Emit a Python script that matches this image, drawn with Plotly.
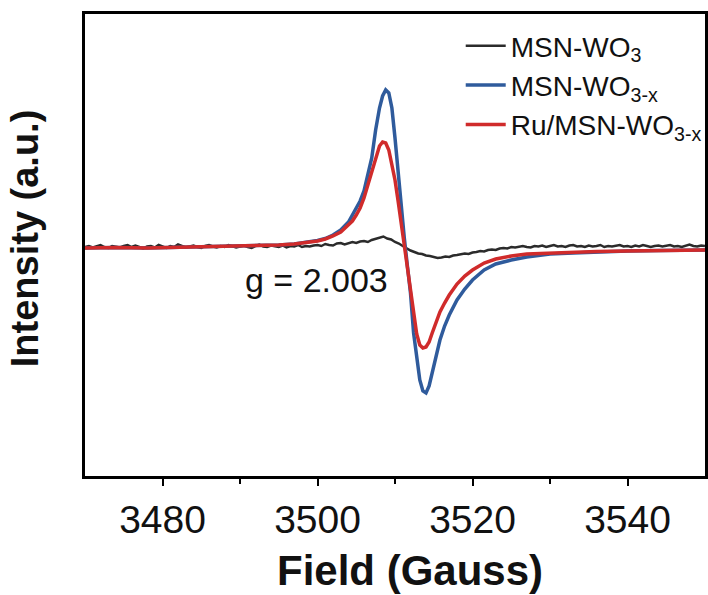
import plotly.graph_objects as go

# ---- data (intensity in arbitrary units) ----
field_fit = [3470, 3474, 3478, 3482, 3486, 3490, 3493, 3495, 3497, 3499,
             3500, 3501, 3502, 3503, 3504, 3504.5, 3505, 3505.5, 3506, 3506.5,
             3507, 3507.5, 3508, 3508.4, 3508.8, 3509.2, 3509.6, 3510, 3510.4, 3510.8,
             3511.2, 3511.6, 3512, 3512.4, 3512.8, 3513.2, 3513.6, 3514, 3514.4, 3514.8,
             3515.3, 3515.8, 3516.4, 3517, 3518, 3519, 3520, 3521.5, 3523, 3525,
             3527, 3530, 3533, 3536, 3540, 3544, 3547, 3550]

msn_wo3x = [0, 0.5, 0, 0.5, 1, 1.5, 2, 3, 4, 6,
            7.5, 9.5, 13, 18, 26, 33, 40, 47, 57, 72,
            90, 118, 140, 152, 158, 155, 140, 110, 75, 40,
            10, -18, -45, -85, -112, -132, -143, -145, -138, -125,
            -107, -92, -78, -67, -52, -41, -32, -22, -16, -12,
            -9, -6, -5, -4, -3, -2.5, -2, -2]

ru_msn_wo3x = [0, 0.5, 0, 0.5, 1, 1.5, 2, 3, 4, 5.5,
               7, 9, 12, 16, 23, 27, 33, 40, 50, 63,
               78, 92, 102, 106, 105, 98, 84, 68, 47, 24,
               5, -18, -42, -68, -86, -97, -100, -99, -94, -85,
               -75, -64, -55, -47, -36, -28, -22, -15, -11, -8,
               -6, -5, -4, -3.5, -3, -2.5, -2, -2]

field_noisy = [3470 + 0.5 * i for i in range(161)]
msn_wo3 = [1, 2, 0.5, 1.5, 3, 1, 0, 2, 1.5, 0.5,
           2, 3, 1, 2.5, 1, -0.5, 1.5, 2, 0.5, 3,
           1.5, 0, 2, 1, 3.5, 2, 0.5, 1.5, 2.5, 1,
           0, 2, 3, 1.5, 0.5, 2, 1, 3, 2, 0.5,
           1.5, 2.5, 1, 0, 2, 3.5, 1.5, 1, 2.5, 2,
           1, 2.5, 0.5, 2, 1.5, 3, 1, 2, 1.5, 2.5,
           3, 2, 4, 3, 2.5, 4.5, 5, 3.5, 5, 6,
           5, 6.5, 7, 6, 8, 9, 10, 11.5, 9.5, 8.5,
           6, 4.5, 2, -0.5, -2.5, -4, -5.5, -6, -7.5, -8,
           -9, -10, -9.5, -8.5, -9, -7.5, -7, -6, -5.5, -6,
           -4.5, -4, -3, -3.5, -2, -1.5, -2, -0.5, 0, -0.5,
           1, 0.5, 1.5, 2, 1, 0.5, 2, 1.5, 2.5, 1,
           2, 3, 1.5, 2, 1, 2.5, 3, 1.5, 2, 1,
           2.5, 1.5, 2, 3, 1, 2, 1.5, 2.5, 3, 1.5,
           2, 1, 2.5, 1.5, 3, 2, 1, 2, 2.5, 1.5,
           2, 3, 1.5, 2, 1, 2.5, 3.5, 2, 1.5, 2.5,
           2]

series_names = ["MSN-WO<sub>3</sub>", "MSN-WO<sub>3-x</sub>", "Ru/MSN-WO<sub>3-x</sub>"]
series_colors = ["#2b2b2b", "#2f5b9c", "#d02b2b"]
x_ticks = [3480, 3500, 3520, 3540]
x_minor = [3490, 3510, 3530]
g_label = "g = 2.003"
x_title = "<b>Field (Gauss)</b>"
y_title = "<b>Intensity (a.u.)</b>"

FONT = "Liberation Sans, Arial, sans-serif"

fig = go.Figure()
fig.add_trace(go.Scatter(x=field_noisy, y=msn_wo3, mode="lines", name=series_names[0],
                         line=dict(color=series_colors[0], width=2.5)))
fig.add_trace(go.Scatter(x=field_fit, y=msn_wo3x, mode="lines", name=series_names[1],
                         line=dict(color=series_colors[1], width=3.5)))
fig.add_trace(go.Scatter(x=field_fit, y=ru_msn_wo3x, mode="lines", name=series_names[2],
                         line=dict(color=series_colors[2], width=3.5)))

fig.add_annotation(x=3499.9, y=-32, xref="x", yref="y", text=g_label, showarrow=False,
                   font=dict(family=FONT, size=34, color="#111111"))

# axis titles (placed as in the reference, slightly off the plot centre)
fig.add_annotation(x=0.524, y=-0.205, xref="paper", yref="paper", text=x_title,
                   showarrow=False, xanchor="center", yanchor="middle",
                   font=dict(family=FONT, size=42, color="#111111"))
fig.add_annotation(x=-0.0965, y=0.515, xref="paper", yref="paper", text=y_title,
                   showarrow=False, xanchor="center", yanchor="middle", textangle=-90,
                   font=dict(family=FONT, size=38, color="#111111"))

fig.update_layout(
    width=708, height=595,
    margin=dict(l=85, r=1, t=14, b=119, pad=0),
    paper_bgcolor="white", plot_bgcolor="white",
    font=dict(family=FONT, color="#111111"),
    showlegend=True,
    legend=dict(x=0.606, y=0.985, xanchor="left", yanchor="top",
                bgcolor="rgba(0,0,0,0)", borderwidth=0,
                font=dict(family=FONT, size=28, color="#111111"),
                itemwidth=40),
    xaxis=dict(range=[3470, 3550], showline=True, linewidth=2.5, linecolor="black",
               mirror=True, ticks="outside", tickwidth=2, ticklen=7, tickcolor="black",
               tickvals=x_ticks, showgrid=False, zeroline=False,
               tickfont=dict(family=FONT, size=39, color="#111111"),
               minor=dict(tickvals=x_minor, ticks="outside", ticklen=5,
                          tickwidth=2, tickcolor="black", showgrid=False)),
    yaxis=dict(range=[-228, 234], showline=True, linewidth=2.5, linecolor="black",
               mirror=True, ticks="", showticklabels=False, showgrid=False, zeroline=False),
)

fig.write_html("out.html")
